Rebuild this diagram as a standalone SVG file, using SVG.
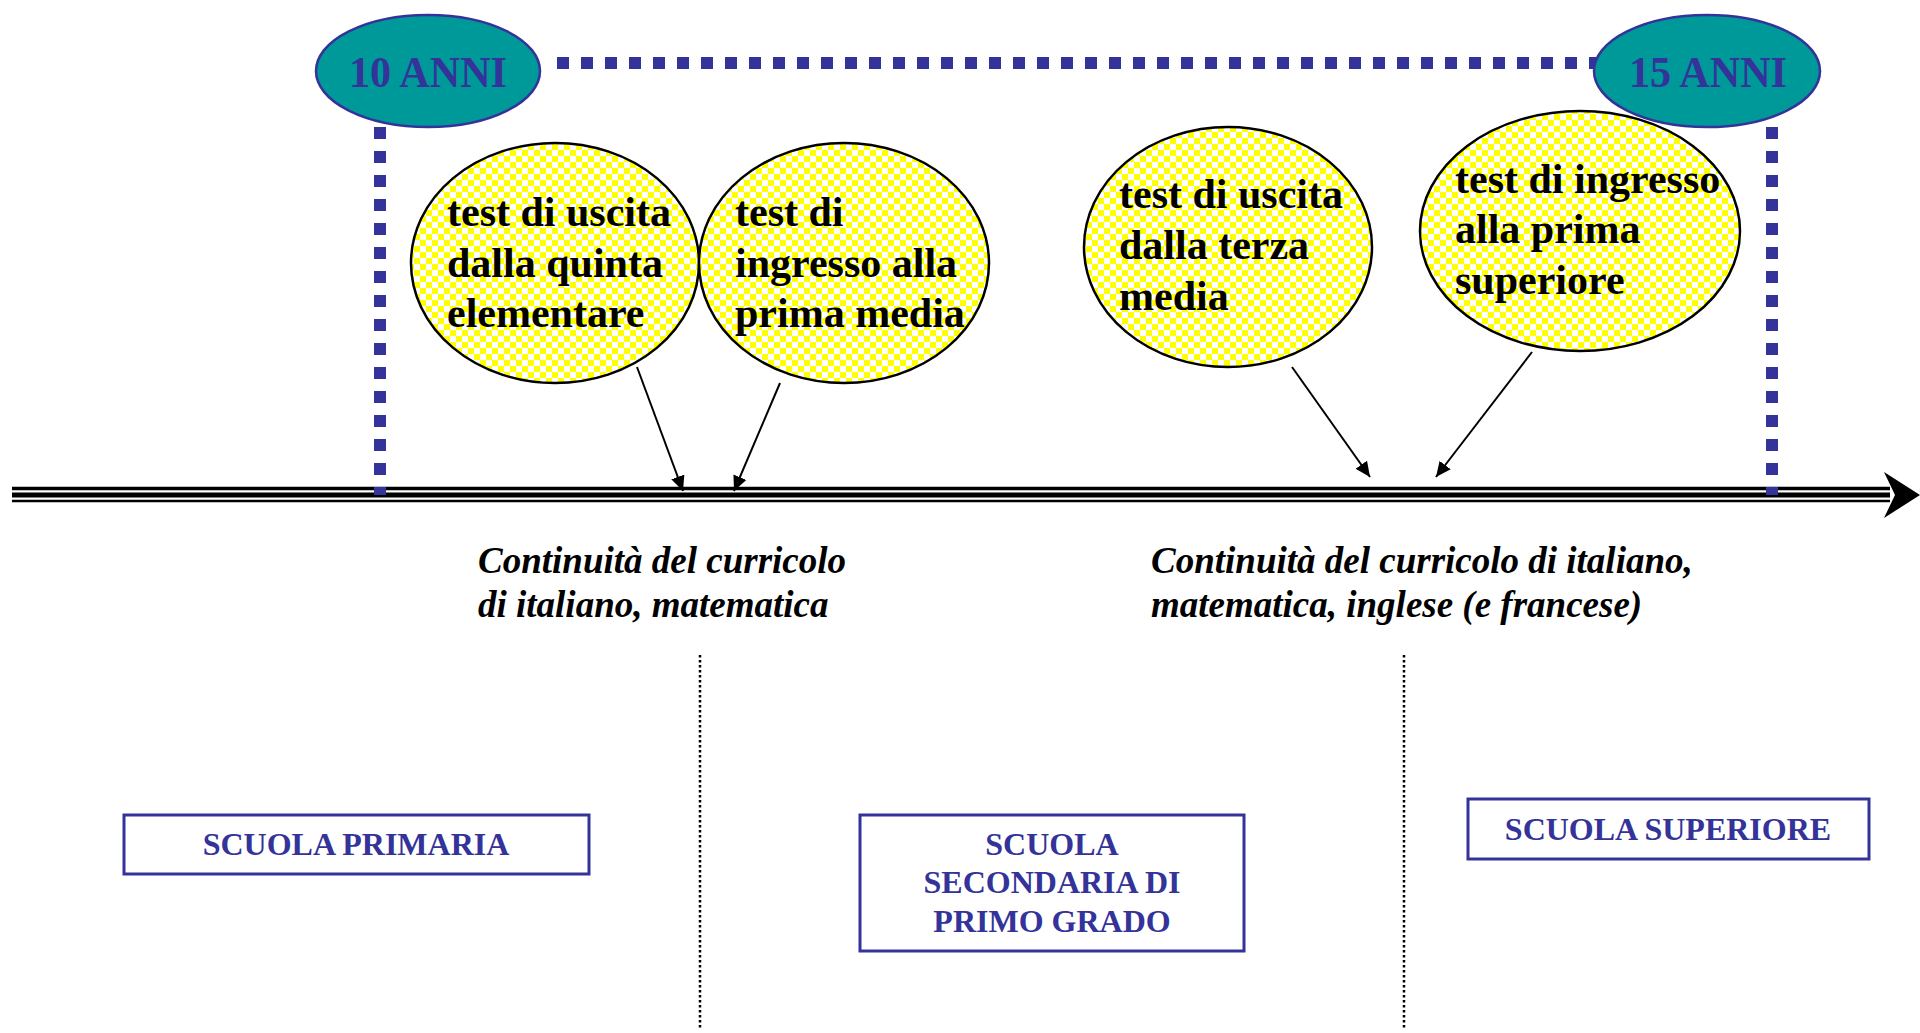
<svg xmlns="http://www.w3.org/2000/svg" width="1920" height="1033" viewBox="0 0 1920 1033">
<defs>
<pattern id="checker" patternUnits="userSpaceOnUse" width="12" height="12">
<rect width="12" height="12" fill="#ffffff"/>
<rect x="0" y="0" width="6" height="6" fill="#ffff00"/>
<rect x="6" y="6" width="6" height="6" fill="#ffff00"/>
</pattern>
<marker id="arr" markerUnits="userSpaceOnUse" markerWidth="16" markerHeight="14" refX="15" refY="7" orient="auto">
<path d="M0,0 L15,7 L0,14 Z" fill="#000"/>
</marker>
<style>
.age{fill:#009999;stroke:#333399;stroke-width:2.5}
.agetxt{font-family:"Liberation Serif","Times New Roman",serif;font-weight:bold;font-size:44px;fill:#333399;text-anchor:middle}
.bubble{fill:url(#checker);stroke:#000;stroke-width:2.5}
.btxt{font-family:"Liberation Serif","Times New Roman",serif;font-weight:bold;font-size:42px;fill:#000}
.dash{stroke:#333399;stroke-width:12;stroke-dasharray:12 12;fill:none}
.lbl{font-family:"Liberation Serif","Times New Roman",serif;font-weight:bold;font-style:italic;font-size:37px;fill:#000}
.box{fill:#fff;stroke:#333399;stroke-width:3}
.boxtxt{font-family:"Liberation Serif","Times New Roman",serif;font-weight:bold;font-size:32px;fill:#333399;text-anchor:middle}
.sep{stroke:#000;stroke-width:2.5;stroke-dasharray:2.5 2.5;fill:none}
.lead{stroke:#000;stroke-width:2;fill:none;marker-end:url(#arr)}
</style>
</defs>
<rect width="1920" height="1033" fill="#ffffff"/>

<g id="timeline">
<line x1="12" y1="488.5" x2="1890" y2="488.5" stroke="#000" stroke-width="3.5"/>
<line x1="12" y1="495" x2="1890" y2="495" stroke="#000" stroke-width="5"/>
<line x1="12" y1="501" x2="1890" y2="501" stroke="#000" stroke-width="2.5"/>
<polygon points="1884,472 1920,495 1884,518 1895,495" fill="#000"/>
</g>

<g id="age-bracket">
<line class="dash" x1="557" y1="63" x2="1600" y2="63"/>
<line class="dash" x1="380" y1="127" x2="380" y2="495"/>
<line class="dash" x1="1772" y1="127" x2="1772" y2="495"/>
</g>

<g id="age10">
<ellipse class="age" cx="428" cy="71" rx="112" ry="56"/>
<text class="agetxt" x="428" y="87" textLength="158" lengthAdjust="spacingAndGlyphs">10 ANNI</text>
</g>
<g id="age15">
<ellipse class="age" cx="1707" cy="71" rx="113" ry="56"/>
<text class="agetxt" x="1708" y="87" textLength="158" lengthAdjust="spacingAndGlyphs">15 ANNI</text>
</g>

<g id="bubble-uscita-quinta">
<ellipse class="bubble" cx="555" cy="263" rx="144" ry="120"/>
<text class="btxt"><tspan x="447" y="226">test di uscita</tspan><tspan x="447" y="277">dalla quinta</tspan><tspan x="447" y="327">elementare</tspan></text>
</g>
<g id="bubble-ingresso-media">
<ellipse class="bubble" cx="844" cy="263" rx="145" ry="120"/>
<text class="btxt"><tspan x="735" y="226">test di</tspan><tspan x="735" y="277">ingresso alla</tspan><tspan x="735" y="327">prima media</tspan></text>
</g>
<g id="bubble-uscita-terza">
<ellipse class="bubble" cx="1228" cy="247" rx="144" ry="120"/>
<text class="btxt"><tspan x="1119" y="208">test di uscita</tspan><tspan x="1119" y="259">dalla terza</tspan><tspan x="1119" y="310">media</tspan></text>
</g>
<g id="bubble-ingresso-superiore">
<ellipse class="bubble" cx="1580" cy="231" rx="160" ry="120"/>
<text class="btxt"><tspan x="1455" y="193">test di ingresso</tspan><tspan x="1455" y="243">alla prima</tspan><tspan x="1455" y="294">superiore</tspan></text>
</g>

<g id="connectors">
<line class="lead" x1="637" y1="367" x2="683" y2="491"/>
<line class="lead" x1="780" y1="383" x2="734" y2="491"/>
<line class="lead" x1="1292" y1="367" x2="1370" y2="477"/>
<line class="lead" x1="1532" y1="352" x2="1436" y2="477"/>
</g>

<g id="label-continuita-1">
<text class="lbl"><tspan x="478" y="573">Continuità del curricolo</tspan><tspan x="478" y="617">di italiano, matematica</tspan></text>
</g>
<g id="label-continuita-2">
<text class="lbl"><tspan x="1151" y="573">Continuità del curricolo di italiano,</tspan><tspan x="1151" y="617">matematica, inglese (e francese)</tspan></text>
</g>

<g id="separators">
<line class="sep" x1="700" y1="655" x2="700" y2="1030"/>
<line class="sep" x1="1404" y1="655" x2="1404" y2="1030"/>
</g>

<g id="box-primaria">
<rect class="box" x="124" y="815" width="465" height="59"/>
<text class="boxtxt" x="356" y="855">SCUOLA PRIMARIA</text>
</g>
<g id="box-secondaria">
<rect class="box" x="860" y="815" width="384" height="136"/>
<text class="boxtxt"><tspan x="1052" y="855">SCUOLA</tspan><tspan x="1052" y="893">SECONDARIA DI</tspan><tspan x="1052" y="932">PRIMO GRADO</tspan></text>
</g>
<g id="box-superiore">
<rect class="box" x="1468" y="799" width="401" height="60"/>
<text class="boxtxt" x="1668" y="840">SCUOLA SUPERIORE</text>
</g>
</svg>
